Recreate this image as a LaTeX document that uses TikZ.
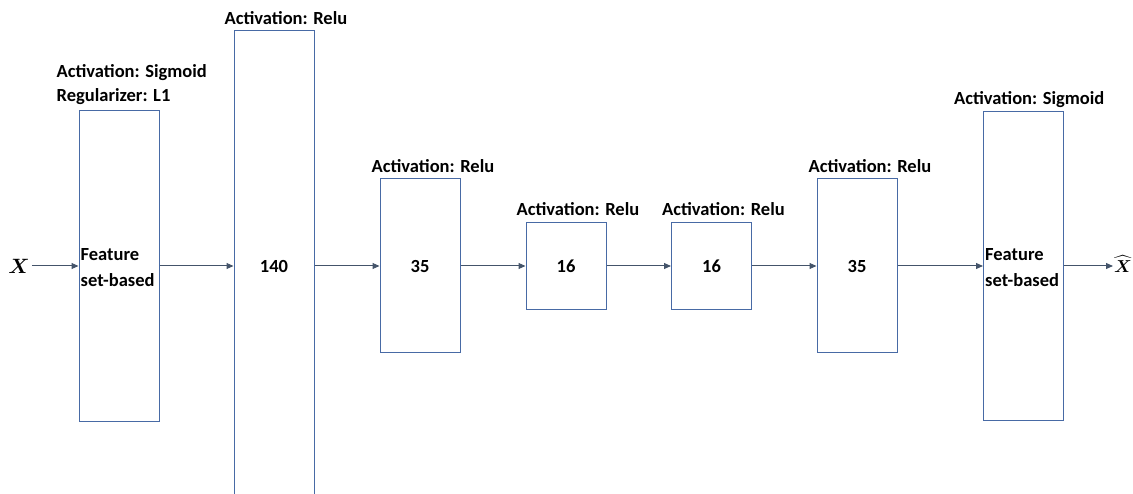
\documentclass[tikz,border=0pt]{standalone}
\usepackage{amsmath}
\usepackage{fontspec}
\setmainfont{Carlito}
\usetikzlibrary{arrows.meta}
\definecolor{boxblue}{RGB}{72,106,165}
\definecolor{arrowgray}{RGB}{68,84,106}
\tikzset{
    layer/.style={draw=boxblue, line width=1pt, minimum width=80pt, inner sep=0pt,
        font=\fontsize{18.5}{26}\selectfont\bfseries},
    act/.style={anchor=base west, inner sep=0pt, yshift=6pt,
        font=\fontsize{18.5}{24}\selectfont\bfseries, align=left},
    flow/.style={draw=arrowgray, line width=1pt, -{Triangle[length=7pt,width=6pt]}}
}
\begin{document}
\begin{tikzpicture}[x=1pt,y=-1pt]
        \clip (0,0) rectangle (1133,494);
        %% Layers
        \node[layer, minimum height=311pt] (in) at (119,266) {};
        \node[layer, minimum height=470pt] (h1) at (274,266) {140};
        \node[layer, minimum height=174pt] (h2) at (420,266) {35};
        \node[layer, minimum height=87pt] (h3) at (566,266) {16};
        \node[layer, minimum height=87pt] (h4) at (711.5,266) {16};
        \node[layer, minimum height=174pt] (h5) at (857,266) {35};
        \node[layer, minimum height=309pt] (out) at (1023.5,266) {};
        %% Feature text
        \node[anchor=west, inner sep=0pt, align=left, font=\fontsize{18.5}{26}\selectfont\bfseries]
            (intext) at ([xshift=2pt,yshift=-2pt]in.west) {Feature\\set-based};
        \node[anchor=west, inner sep=0pt, align=left, font=\fontsize{18.5}{26}\selectfont\bfseries]
            (outtext) at ([xshift=2pt,yshift=-2pt]out.west) {Feature\\set-based};
        %% Labels
        \node[act, yshift=2pt] (inlab) at ([xshift=-22pt]in.north west) {Activation: Sigmoid\\Regularizer: L1};
        \node[act] (h1lab) at ([xshift=-9pt]h1.north west) {Activation: Relu};
        \node[act] (h2lab) at ([xshift=-8pt]h2.north west) {Activation: Relu};
        \node[act] (h3lab) at ([xshift=-9pt]h3.north west) {Activation: Relu};
        \node[act] (h4lab) at ([xshift=-9pt]h4.north west) {Activation: Relu};
        \node[act] (h5lab) at ([xshift=-8pt]h5.north west) {Activation: Relu};
        \node[act, yshift=0pt] (outlab) at ([xshift=-29pt]out.north west) {Activation: Sigmoid};
        %% Input and output
        \node[font=\fontsize{22}{22}\selectfont, inner sep=2pt] (x) at (19,266) {$\boldsymbol{X}$};
        \node[font=\fontsize{17}{17}\selectfont, inner sep=1pt, anchor=west] (xhat) at (1113,264) {$\widehat{\boldsymbol{X}}$};
        %% Flow
        \draw[flow] (x) -- (in);
        \draw[flow] (in) -- (h1);
        \draw[flow] (h1) -- (h2);
        \draw[flow] (h2) -- (h3);
        \draw[flow] (h3) -- (h4);
        \draw[flow] (h4) -- (h5);
        \draw[flow] (h5) -- (out);
        \draw[flow] (out) -- (xhat.west |- out);
    \end{tikzpicture}
\end{document}
